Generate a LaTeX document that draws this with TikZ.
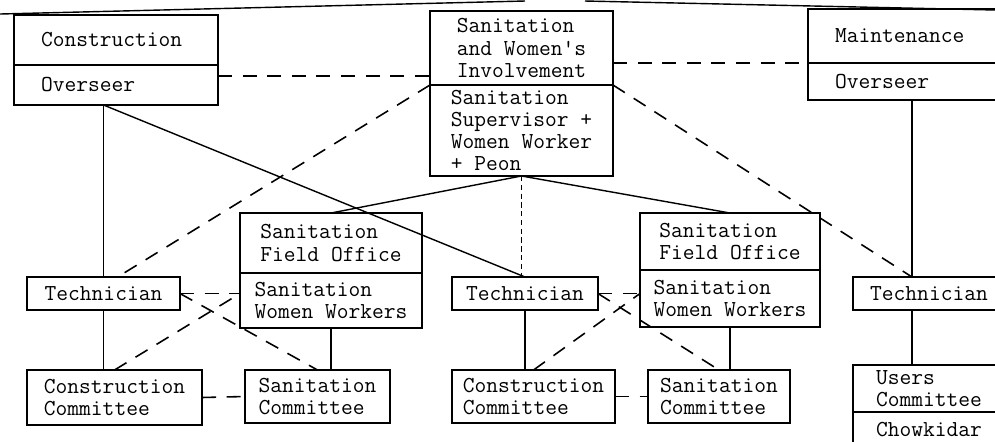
\documentclass[tikz,border=0pt]{standalone}
\usepackage{fontspec}
\usetikzlibrary{positioning}
\tikzset{
    cell/.style={
        rectangle, draw, line width=0.9pt, outer sep=0pt, inner sep=0pt,
        font=\ttfamily\fontsize{13}{12.6}\selectfont, align=left
    },
    headcell/.style={cell, text width=3cm, inner xsep=0.54cm},
    tie/.style={line width=0.8pt},
    dashtie/.style={line width=0.9pt, dash pattern=on 8pt off 6pt},
}

\begin{document}
\begin{tikzpicture}[x=0.02cm, y=-0.02cm]
    \useasboundingbox (0,0) rectangle (995,441);
    \clip (0,0) rectangle (995,441);

    % top level
    \node[headcell, minimum height=1cm] (con) at (116,40) {Construction};
    \node[headcell, minimum height=0.8cm, below=0pt of con] (conover) {Overseer};

    \node[cell, minimum width=3.66cm, minimum height=1.48cm] (involve) at (521.5,48)
        {Sanitation\\and Women's\\Involvement};
    \node[cell, minimum width=3.66cm, minimum height=1.82cm, below=0pt of involve] (superv)
        {Sanitation\\Supervisor +\\Women Worker\\+ Peon};

    \node[headcell, minimum height=1.08cm] (maint) at (910,36) {Maintenance};
    \node[headcell, minimum height=0.74cm, below=0pt of maint] (maintover) {Overseer};
    \coordinate (mtrunk) at (912,0);

    % field level
    \node[cell, minimum width=3.64cm, minimum height=1.2cm] (fielda) at (331,243)
        {Sanitation\\Field Office};
    \node[cell, minimum width=3.64cm, minimum height=1.1cm, below=0pt of fielda] (workersa)
        {Sanitation\\Women Workers};
    \node[cell, minimum width=3.6cm, minimum height=1.14cm] (fieldb) at (730,241.5)
        {Sanitation\\Field Office};
    \node[cell, minimum width=3.6cm, minimum height=1.14cm, below=0pt of fieldb] (workersb)
        {Sanitation\\Women Workers};

    \node[cell, minimum width=3.06cm, minimum height=0.66cm] (techa) at (103.5,293.5) {Technician};
    \node[cell, minimum width=2.92cm, minimum height=0.66cm] (techb) at (525,293.5) {Technician};
    \node[cell, minimum width=3.04cm, minimum height=0.66cm] (techc) at (929,293.5) {Technician};

    % village level
    \node[cell, minimum width=3.5cm, minimum height=1.1cm] (conca) at (114.5,397.5)
        {Construction\\Committee};
    \node[cell, minimum width=2.9cm, minimum height=1.06cm] (sanca) at (317.5,396.5)
        {Sanitation\\Committee};
    \node[cell, minimum width=3.26cm, minimum height=1.06cm] (concb) at (533.5,396.5)
        {Construction\\Committee};
    \node[cell, minimum width=2.84cm, minimum height=1.06cm] (sancb) at (719,396.5)
        {Sanitation\\Committee};
    \node[cell, minimum width=3.04cm, minimum height=0.94cm] (users) at (929,388.5)
        {Users\\Committee};
    \node[cell, minimum width=3.04cm, minimum height=0.7cm, below=0pt of users] (chow) {Chowkidar};

    % line across the top
    \draw[tie] (0,14) -- (525,1);
    \draw[tie] (585,1) -- (995,10);

    % solid lines
    \draw[tie] (conover.south -| techa.north) -- (techa.north);
    \draw[tie] (conover.south -| techa.north) -- (techb.north);
    \draw[tie] (superv.south) -- (fielda.north);
    \draw[tie] (superv.south) -- (fieldb.north);
    \draw[tie] (techa.south) -- (techa.south |- conca.north);
    \draw[tie] (workersa.south) -- (workersa.south |- sanca.north);
    \draw[tie] (techb.south) -- (techb.south |- concb.north);
    \draw[tie] (workersb.south) -- (workersb.south |- sancb.north);
    \draw[tie] (maintover.south -| mtrunk) -- (techc.north -| mtrunk);
    \draw[tie] (techc.south -| mtrunk) -- (users.north -| mtrunk);

    % dashed lines
    \draw[dashtie] ([yshift=5pt]conover.east) -- ([yshift=5pt]conover.east -| involve.west);
    \draw[dashtie] (superv.north east |- maintover.north west) -- (maintover.north west);
    \draw[dashtie] (superv.north west) -- ([xshift=8pt]techa.north);
    \draw[dashtie] (superv.north east) -- (techc.north -| mtrunk);
    \draw[line width=0.6pt, densely dashed] (superv.south) -- (superv.south |- techb.north);
    \draw[dashtie] (techa.east) -- (techa.east -| workersa.west);
    \draw[dashtie] (techa.east) -- (sanca.north);
    \draw[dashtie] (conca.north) -- (techa.east -| workersa.west);
    \draw[dashtie] (techb.east) -- (techb.east -| workersb.west);
    \draw[dashtie] (techb.east) -- (sancb.north);
    \draw[dashtie] (concb.north) -- (techb.east -| workersb.west);
    \draw[dashtie] (conca.east) -- (sanca.west);
    \draw[dashtie] (concb.east) -- (sancb.west);
\end{tikzpicture}
\end{document}
